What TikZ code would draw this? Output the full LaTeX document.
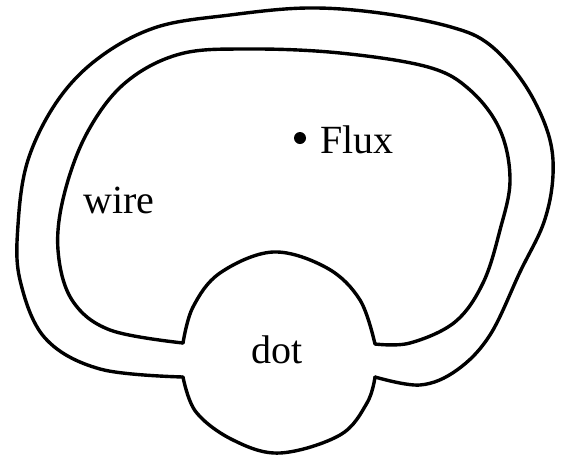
\documentclass[tikz,border=0pt]{standalone}
\usepackage{fontspec}
\setmainfont{Liberation Serif}
\begin{document}
\begin{tikzpicture}[x=1pt,y=-1pt,
  wireline/.style={line width=3.4pt,line join=round,line cap=round},
  lbl/.style={anchor=base west,inner sep=0pt,font=\fontsize{40}{44}\selectfont}]
\useasboundingbox (0,0) rectangle (568,456);
% inner loop
\draw[wireline] plot[smooth,tension=0.6] coordinates {(183,343) (110,330) (72,300) (58,250) (64,195) (87,133) (125,83) (180,54) (250,49) (340,53) (428,67) (470,90) (500,130) (510,180) (500,230) (483,283) (455,322) (410,343) (375,344)};
% outer loop
\draw[wireline] plot[smooth,tension=0.6] coordinates {(183,377) (100,369) (45,338) (20,280) (18,225) (28,160) (58,100) (100,57) (157,27) (230,15) (307,8) (380,13) (451,27) (490,45) (525,85) (548,133) (553,175) (544,222) (520,272) (490,335) (457,370) (420,385) (375,377)};
% dot top
\draw[wireline] plot[smooth,tension=0.6] coordinates {(183,343) (193,307) (220,273) (273,252) (327,268) (360,300) (375,344)};
% dot bottom
\draw[wireline] plot[smooth,tension=0.6] coordinates {(183,377) (196,412) (233,440) (280,453) (340,435) (367,403) (375,377)};
% labels
\fill (300,138) circle (6);
\node[lbl] (flux) at (320,153) {Flux};
\node[lbl] (wire) at (83,213) {wire};
\node[lbl] (dot) at (251,363) {dot};
\end{tikzpicture}
\end{document}
